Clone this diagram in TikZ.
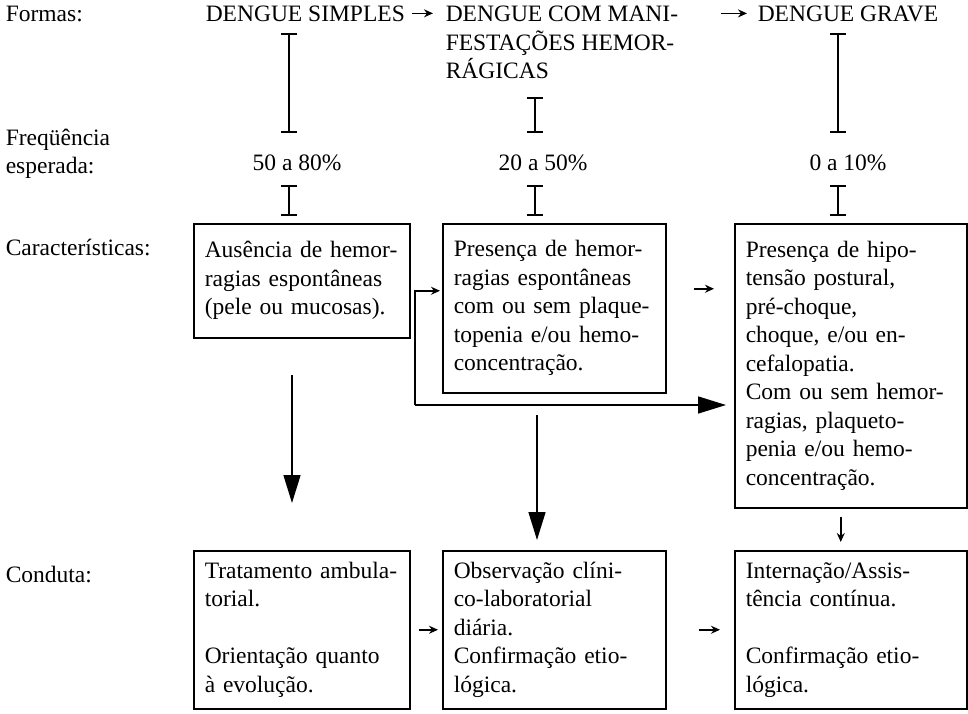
\documentclass[tikz,border=0pt]{standalone}
\usepackage{fontspec}
\setmainfont{Liberation Serif}
\usetikzlibrary{arrows.meta}

\begin{document}
\begin{tikzpicture}[x=1pt, y=-1pt, line width=1.5pt,
  every node/.style={font=\fontsize{23.5}{28.5}\selectfont, inner sep=0pt},
  cbox/.style={draw, anchor=north west, inner xsep=11pt, inner ysep=0pt, align=left, text width=#1},
  sarr/.style={-{Stealth[length=9pt,width=8pt]}, line width=1.6pt},
  barr/.style={-{Triangle[length=28pt,width=17pt]}},
  ibeam/.style={{Bar[width=16pt]}-{Bar[width=16pt]}, line width=1.6pt}]
  \useasboundingbox (0,0) rectangle (968,713);
  % Formas
  \node[anchor=base west] (formas) at (5,21) {Formas:};
  \node[anchor=base west] (dsimp) at (205,21) {DENGUE SIMPLES};
  \node[anchor=north west, align=left] (dcom) at (445,5.5) {DENGUE COM MANI-\\FESTAÇÕES HEMOR-\\RÁGICAS};
  \node[anchor=base west] (dgrave) at (757,21) {DENGUE GRAVE};
  \draw[sarr, shorten <=6pt, shorten >=12pt] (dsimp.east) -- (dsimp.east -| dcom.west);
  \draw[sarr, shorten <=42pt, shorten >=10pt] (dgrave.west -| dcom.east) -- (dgrave.west);
  % Freqüência esperada
  \node[anchor=north west, align=left] (freq) at (5,128) {Freqüência\\esperada:};
  \node[anchor=base] (pct1) at (297,170.5) {50 a 80\%};
  \node[anchor=base] (pct2) at (543,170.5) {20 a 50\%};
  \node[anchor=base] (pct3) at (848,170.5) {0 a 10\%};
  \foreach \x/\ya in {289/33, 535/97, 838/33} {
    \draw[ibeam] (\x,\ya) -- (\x,133);
    \draw[ibeam] (\x,185) -- (\x,216);
  }
  % Características
  \node[anchor=base west] (carac) at (5,255.5) {Características:};
  \node[cbox=194pt, minimum height=114pt] (car1) at (193,223)
    {Ausência de hemor-\\ragias espontâneas\\(pele ou mucosas).};
  \node[cbox=201pt, minimum height=169pt] (car2) at (442,223)
    {Presença de hemor-\\ragias espontâneas\\com ou sem plaque-\\topenia e/ou hemo-\\concentração.};
  \node[cbox=210pt, minimum height=284pt] (car3) at (734,223)
    {Presença de hipo-\\tensão postural,\\pré-choque,\\choque, e/ou en-\\cefalopatia.\\Com ou sem hemor-\\ragias, plaqueto-\\penia e/ou hemo-\\concentração.};
  \draw[sarr, shorten <=27pt, shorten >=20pt] ([yshift=19.5pt]car2.east) -- ([yshift=19.5pt]car2.east -| car3.west);
  \coordinate (jn) at (415,405);
  \draw[sarr, shorten >=2pt] (jn) |- ([yshift=17.5pt]car2.west);
  \draw[barr, shorten >=8pt] (jn) -- (car3.west |- jn);
  % Conduta
  \node[anchor=base west] (cond) at (5,582.5) {Conduta:};
  \node[cbox=194pt, minimum height=158pt] (cond1) at (193,550)
    {Tratamento ambula-\\torial.\\[28.5pt]Orientação quanto\\à evolução.};
  \node[cbox=201pt, minimum height=158pt] (cond2) at (442,550)
    {Observação clíni-\\co-laboratorial\\diária.\\Confirmação etio-\\lógica.};
  \node[cbox=210pt, minimum height=158pt] (cond3) at (734,550)
    {Internação/Assis-\\tência contínua.\\[28.5pt]Confirmação etio-\\lógica.};
  \coordinate (dn1a) at (292,375);
  \coordinate (dn1b) at (292,503);
  \coordinate (dn2a) at (537,415);
  \coordinate (dn2b) at (537,540);
  \draw[barr] (dn1a) -- (dn1b);
  \draw[barr] (dn2a) -- (dn2b);
  \draw[sarr, shorten <=8pt, shorten >=8pt] ([xshift=-10pt]car3.south) -- ([xshift=-10pt]cond3.north);
  \draw[sarr, shorten <=8pt, shorten >=4pt] (cond1) -- (cond2);
  \draw[sarr, shorten <=32pt, shorten >=14pt] (cond2) -- (cond3);
\end{tikzpicture}
\end{document}
